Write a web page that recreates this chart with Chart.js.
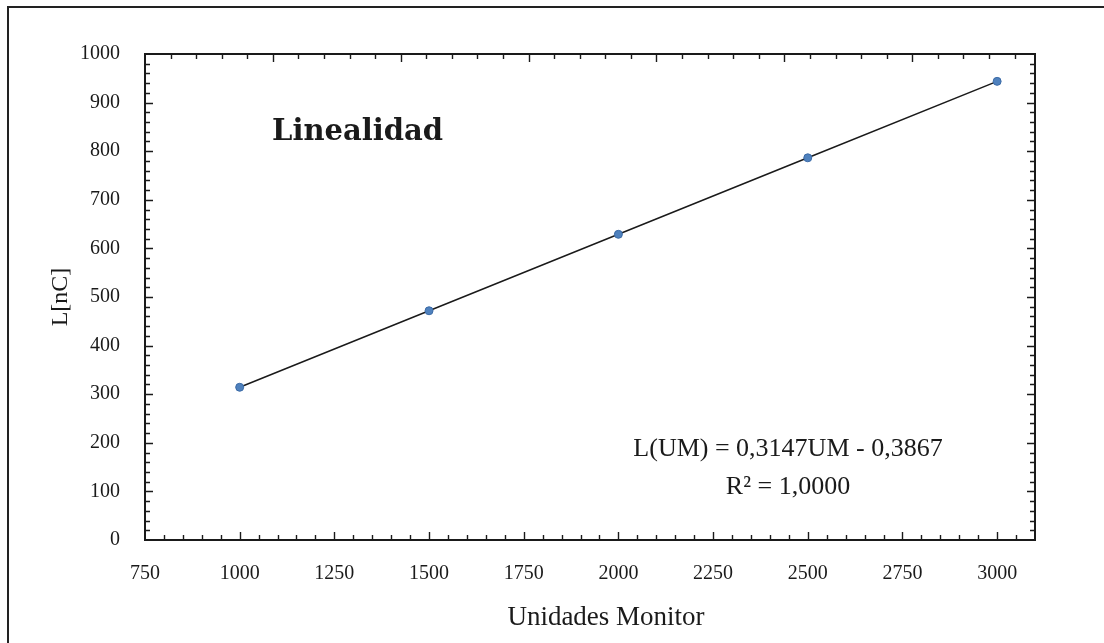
<!DOCTYPE html>
<html>
<head>
<meta charset="utf-8">
<script src="https://cdn.jsdelivr.net/npm/chart.js@4"></script>
<style>
  html, body { margin: 0; padding: 0; background: #fff; overflow: hidden; }
  #wrap { width: 1104px; height: 643px; }
</style>
</head>
<body>
<div id="wrap"><canvas id="chart" width="1104" height="643"></canvas></div>
<script>
// Datos de la linealidad (UM vs carga)
const unidades = [1000, 1500, 2000, 2500, 3000];
const carga = [314.3, 471.7, 629.0, 786.4, 943.7];
const xTicks = [750, 1000, 1250, 1500, 1750, 2000, 2250, 2500, 2750, 3000];
const yTicks = [0, 100, 200, 300, 400, 500, 600, 700, 800, 900, 1000];
const titulo = 'Linealidad';
const tituloX = 'Unidades Monitor';
const ecuacion = 'L(UM) = 0,3147UM - 0,3867';
const ajuste = 'R\u00b2 = 1,0000';

const serif = "'Liberation Serif', 'DejaVu Serif', serif";
const ink = '#1a1a1a';

function tickRun(ctx, scale, step, majorEvery, draw) {
    for (let v = scale.min + step; v < scale.max; v += step) {
        const p = Math.round(scale.getPixelForValue(v)) + 0.5;
        const major = Math.round(v / step) % majorEvery === 0;
        draw(p, major ? 8 : 5);
    }
}

// Inward ticks (major + minor) on all four sides, plus frame and labels
const framePlugin = {
    id: 'frame',
    beforeDraw(chart) {
        const ctx = chart.ctx;
        ctx.save();
        ctx.strokeStyle = '#222';
        ctx.lineWidth = 2;
        ctx.strokeRect(8, 7, 1300, 900);
        ctx.restore();
    },
    afterDraw(chart) {
        const { ctx, chartArea: a, scales: { x, x2, y } } = chart;
        ctx.save();
        ctx.strokeStyle = ink;
        ctx.lineWidth = 2;
        ctx.strokeRect(a.left, a.top, a.right - a.left, a.bottom - a.top);

        ctx.lineWidth = 1.4;
        ctx.beginPath();
        tickRun(ctx, x, 50, 5, (p, len) => { ctx.moveTo(p, a.bottom); ctx.lineTo(p, a.bottom - len); });
        tickRun(ctx, x2, 100, 5, (p, len) => { ctx.moveTo(p, a.top); ctx.lineTo(p, a.top + len); });
        tickRun(ctx, y, 20, 5, (p, len) => {
            ctx.moveTo(a.left, p); ctx.lineTo(a.left + len, p);
            ctx.moveTo(a.right, p); ctx.lineTo(a.right - len, p);
        });
        ctx.stroke();

        // title inside the plot
        ctx.fillStyle = ink;
        ctx.textBaseline = 'alphabetic';
        ctx.textAlign = 'left';
        ctx.font = "bold 29px 'DejaVu Serif', serif";
        ctx.fillText(titulo, a.left + 127, 140);

        // regression text
        ctx.textAlign = 'center';
        ctx.textBaseline = 'middle';
        ctx.font = '26px ' + serif;
        ctx.fillText(ecuacion, 788, 449);
        ctx.fillText(ajuste, 788, 487);

        // x axis title (sits a bit right of the plot centre)
        ctx.font = '27px ' + serif;
        ctx.fillText(tituloX, 606, 618);
        ctx.restore();
    }
};

new Chart(document.getElementById('chart'), {
    type: 'scatter',
    data: {
        datasets: [{
            data: unidades.map((u, i) => ({ x: u, y: carga[i] })),
            showLine: true,
            borderColor: ink,
            borderWidth: 1.5,
            pointRadius: 4,
            pointBackgroundColor: '#4f81bd',
            pointBorderColor: '#3b6aa6',
            pointBorderWidth: 1
        }]
    },
    options: {
        responsive: false,
        animation: false,
        devicePixelRatio: 1,
        layout: { padding: { left: 0, top: 54, right: 69, bottom: 0 } },
        plugins: { legend: { display: false }, tooltip: { enabled: false } },
        scales: {
            x: {
                type: 'linear',
                min: 750,
                max: 3100,
                afterBuildTicks: s => { s.ticks = xTicks.map(v => ({ value: v })); },
                afterFit: s => { s.height = 643 - 540; },
                grid: { display: false, drawTicks: false },
                border: { display: false },
                ticks: {
                    color: ink, padding: 22, maxRotation: 0,
                    font: { family: serif, size: 20 },
                    callback: v => String(v)
                }
            },
            // secondary top axis, only its tick marks are drawn
            x2: {
                type: 'linear',
                position: 'top',
                display: false,
                min: 0,
                max: 3480
            },
            y: {
                type: 'linear',
                min: 0,
                max: 1000,
                afterBuildTicks: s => { s.ticks = yTicks.map(v => ({ value: v })); },
                afterFit: s => { s.width = 145; },
                grid: { display: false, drawTicks: false },
                border: { display: false },
                ticks: {
                    color: ink, padding: 25,
                    font: { family: serif, size: 20 },
                    callback: v => String(v)
                },
                title: {
                    display: true,
                    text: 'L[nC]',
                    color: ink,
                    font: { family: serif, size: 24 },
                    padding: { top: 46, bottom: 0 }
                }
            }
        }
    },
    plugins: [framePlugin]
});
</script>
</body>
</html>
